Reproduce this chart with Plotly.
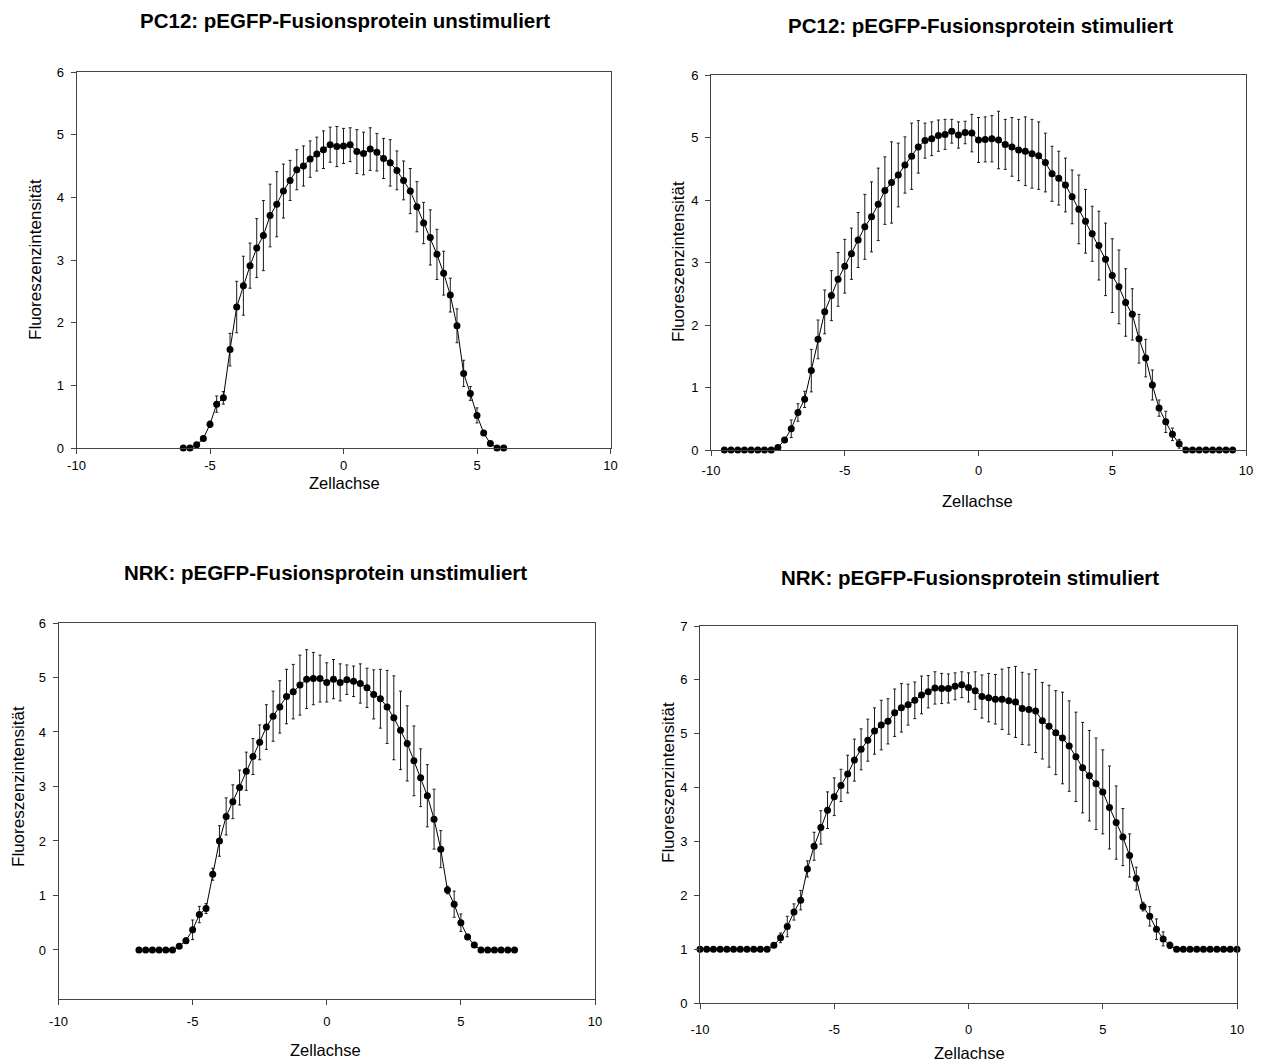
import numpy as np
import plotly.graph_objects as go

W, H = 1266, 1064

# ---------------- data ----------------
# PC12 unstimuliert, Zellachse -6 .. 6 (step 0.25)
x_pc12_u = np.arange(-6.0, 6.0001, 0.25)
y_pc12_u = [0.00, 0.00, 0.05, 0.15, 0.38, 0.70, 0.80, 1.57, 2.25, 2.59,
            2.91, 3.19, 3.39, 3.71, 3.89, 4.10, 4.27, 4.44, 4.50, 4.61,
            4.69, 4.76, 4.84, 4.81, 4.82,
            4.84, 4.73, 4.70, 4.77, 4.72, 4.62, 4.55, 4.43, 4.27, 4.10,
            3.85, 3.59, 3.36, 3.09, 2.79, 2.44, 1.95, 1.19, 0.87, 0.52,
            0.24, 0.07, 0.00, 0.00]
e_pc12_u = [0.00, 0.00, 0.02, 0.03, 0.05, 0.13, 0.10, 0.26, 0.41, 0.47,
            0.36, 0.47, 0.56, 0.50, 0.52, 0.43, 0.32, 0.32, 0.32, 0.29,
            0.27, 0.30, 0.28, 0.32, 0.28,
            0.27, 0.35, 0.34, 0.34, 0.30, 0.32, 0.37, 0.31, 0.31, 0.36,
            0.40, 0.33, 0.44, 0.40, 0.35, 0.27, 0.27, 0.21, 0.11, 0.12,
            0.04, 0.02, 0.00, 0.00]

# PC12 stimuliert, Zellachse -9.5 .. 9.5
x_pc12_s = np.arange(-9.5, 9.5001, 0.25)
y_pc12_s = [0, 0, 0, 0, 0, 0, 0, 0,
            0.04, 0.16, 0.34, 0.60, 0.81, 1.27, 1.77, 2.21, 2.47, 2.73,
            2.94, 3.14, 3.36, 3.57, 3.73, 3.93, 4.15, 4.28, 4.40, 4.56,
            4.70, 4.85, 4.95, 4.98, 5.03, 5.05, 5.10, 5.04, 5.08, 5.07,
            4.96,
            4.97, 4.98, 4.96, 4.89, 4.85, 4.80, 4.78, 4.74, 4.71, 4.60,
            4.42, 4.35, 4.24, 4.05, 3.85, 3.66, 3.46, 3.27, 3.05, 2.79,
            2.61, 2.36, 2.17, 1.78, 1.47, 1.04, 0.67, 0.45, 0.25, 0.10,
            0, 0, 0, 0, 0, 0, 0, 0]
e_pc12_s = [0, 0, 0, 0, 0, 0, 0, 0,
            0.02, 0.04, 0.14, 0.14, 0.13, 0.34, 0.31, 0.35, 0.40, 0.43,
            0.43, 0.41, 0.44, 0.52, 0.56, 0.58, 0.54, 0.65, 0.51, 0.45,
            0.53, 0.42, 0.28, 0.27, 0.25, 0.24, 0.19, 0.21, 0.18, 0.30,
            0.36,
            0.36, 0.37, 0.46, 0.40, 0.47, 0.49, 0.55, 0.55, 0.54, 0.47,
            0.44, 0.43, 0.43, 0.43, 0.55, 0.51, 0.44, 0.55, 0.58, 0.59,
            0.59, 0.54, 0.41, 0.39, 0.30, 0.24, 0.13, 0.17, 0.10, 0.07,
            0, 0, 0, 0, 0, 0, 0, 0]

# NRK unstimuliert, Zellachse -7 .. 7
x_nrk_u = np.arange(-7.0, 7.0001, 0.25)
y_nrk_u = [0, 0, 0, 0, 0, 0,
           0.07, 0.17, 0.37, 0.65, 0.76, 1.39, 2.00, 2.45, 2.72, 2.98,
           3.28, 3.55, 3.81, 4.09, 4.29, 4.46, 4.65, 4.74, 4.86, 4.97,
           4.98, 4.98,
           4.91,
           4.97, 4.91, 4.96, 4.93, 4.89, 4.81, 4.69, 4.61, 4.46, 4.26,
           4.03, 3.79, 3.47, 3.16, 2.83, 2.40, 1.85, 1.10, 0.84, 0.50,
           0.24, 0.09,
           0, 0, 0, 0, 0, 0]
e_nrk_u = [0, 0, 0, 0, 0, 0,
           0.03, 0.05, 0.18, 0.15, 0.09, 0.11, 0.28, 0.34, 0.31, 0.32,
           0.35, 0.33, 0.32, 0.41, 0.46, 0.48, 0.50, 0.50, 0.55, 0.54,
           0.48, 0.43,
           0.36,
           0.36, 0.34, 0.27, 0.28, 0.36, 0.36, 0.45, 0.54, 0.67, 0.77,
           0.72, 0.69, 0.64, 0.53, 0.57, 0.55, 0.34, 0.07, 0.24, 0.16,
           0.05, 0.02,
           0, 0, 0, 0, 0, 0]

# NRK stimuliert, Zellachse -10 .. 10
x_nrk_s = np.arange(-10.0, 10.0001, 0.25)
y_nrk_s = [1, 1, 1, 1, 1, 1, 1, 1, 1, 1, 1,
           1.07, 1.21, 1.42, 1.69, 1.91, 2.49, 2.91, 3.26, 3.58, 3.83,
           4.04, 4.25, 4.51, 4.71, 4.88, 5.05, 5.16, 5.23, 5.39, 5.48,
           5.54, 5.62, 5.72, 5.78, 5.85, 5.84, 5.84, 5.88, 5.91,
           5.86,
           5.80, 5.69, 5.67, 5.64, 5.64, 5.61, 5.59, 5.47, 5.45, 5.42,
           5.24, 5.14, 5.02, 4.92, 4.77, 4.57, 4.37, 4.22, 4.07, 3.92,
           3.63, 3.35, 3.08, 2.74, 2.31, 1.79, 1.61, 1.37, 1.19, 1.07,
           1, 1, 1, 1, 1, 1, 1, 1, 1, 1]
e_nrk_s = [0, 0, 0, 0, 0, 0, 0, 0, 0, 0, 0,
           0.04, 0.09, 0.19, 0.15, 0.18, 0.15, 0.26, 0.31, 0.34, 0.35,
           0.30, 0.35, 0.39, 0.38, 0.39, 0.43, 0.46, 0.42, 0.44, 0.45,
           0.38, 0.34, 0.35, 0.30, 0.30, 0.28, 0.27, 0.25, 0.24,
           0.27,
           0.35, 0.40, 0.45, 0.46, 0.56, 0.62, 0.66, 0.67, 0.66, 0.77,
           0.71, 0.76, 0.78, 0.85, 0.84, 0.83, 0.84, 0.84, 0.85, 0.78,
           0.77, 0.68, 0.53, 0.40, 0.21, 0.08, 0.18, 0.19, 0.13, 0.06,
           0, 0, 0, 0, 0, 0, 0, 0, 0, 0]

titles = ["PC12: pEGFP-Fusionsprotein unstimuliert",
          "PC12: pEGFP-Fusionsprotein stimuliert",
          "NRK: pEGFP-Fusionsprotein unstimuliert",
          "NRK: pEGFP-Fusionsprotein stimuliert"]
x_label = "Zellachse"
y_label = "Fluoreszenzintensität"
x_ticks = [-10, -5, 0, 5, 10]
x_tick_text = ["-10", "-5", "0", "5", "10"]

series = [(x_pc12_u, y_pc12_u, e_pc12_u),
          (x_pc12_s, y_pc12_s, e_pc12_s),
          (x_nrk_u, y_nrk_u, e_nrk_u),
          (x_nrk_s, y_nrk_s, e_nrk_s)]

# ---------------- layout (pixel boxes) ----------------
# (left, right, top, bottom) of plot areas in pixels
boxes = [(76.5, 610.5, 72, 448),
         (711, 1246, 75, 450),
         (58.5, 595, 623, 999),
         (700, 1237, 626, 1003)]
y_ranges = [[0, 6], [0, 6], [-0.9, 6], [0, 7]]
y_ticks = [[0, 1, 2, 3, 4, 5, 6], [0, 1, 2, 3, 4, 5, 6],
           [0, 1, 2, 3, 4, 5, 6], [0, 1, 2, 3, 4, 5, 6, 7]]
x_standoff = [0, 3, 5, 9]
title_pos = [(345, 20), (980, 25), (326, 572), (970, 577)]
xlab_pos = [(344, 483), (977, 501), (326, 1050), (969, 1053)]
ylab_pos = [(35, 260), (679, 262), (18, 787), (668, 783)]

FONT = "Liberation Sans, Arial, sans-serif"
AX = "#444444"

fig = go.Figure()
annotations = []
for i, ((xv, yv, ev), (l, r, t, b)) in enumerate(zip(series, boxes)):
    n = i + 1
    xa = "x" if n == 1 else f"x{n}"
    ya = "y" if n == 1 else f"y{n}"
    fig.add_trace(go.Scatter(
        x=list(xv), y=yv, xaxis=xa, yaxis=ya, mode="lines+markers",
        line=dict(color="black", width=1),
        marker=dict(color="black", size=7),
        error_y=dict(type="data", array=ev, symmetric=True, color="#1a1a1a",
                     thickness=1, width=1.5),
        cliponaxis=False, showlegend=False, hoverinfo="skip"))
    axcommon = dict(showgrid=False, zeroline=False, showline=True,
                    linecolor=AX, linewidth=1, mirror=True, ticks="outside",
                    ticklen=5, tickwidth=1, tickcolor=AX, automargin=False,
                    tickfont=dict(family=FONT, size=13, color="black"))
    fig.layout[("xaxis" if n == 1 else f"xaxis{n}")] = dict(
        domain=[l / W, r / W], range=[-10, 10], tickvals=x_ticks,
        ticktext=x_tick_text,
        anchor=ya, ticklabelstandoff=x_standoff[i], **axcommon)
    fig.layout[("yaxis" if n == 1 else f"yaxis{n}")] = dict(
        domain=[1 - b / H, 1 - t / H], range=y_ranges[i], tickvals=y_ticks[i],
        anchor=xa, ticklabelstandoff=4, **axcommon)
    tx, ty = title_pos[i]
    annotations.append(dict(text=f"<b>{titles[i]}</b>", x=tx / W, y=1 - ty / H,
                            xref="paper", yref="paper", showarrow=False,
                            xanchor="center", yanchor="middle",
                            font=dict(family=FONT, size=20.5, color="black")))
    lx, ly = xlab_pos[i]
    annotations.append(dict(text=x_label, x=lx / W, y=1 - ly / H,
                            xref="paper", yref="paper", showarrow=False,
                            xanchor="center", yanchor="middle",
                            font=dict(family=FONT, size=16.5, color="black")))
    vx, vy = ylab_pos[i]
    annotations.append(dict(text=y_label, x=vx / W, y=1 - vy / H,
                            xref="paper", yref="paper", showarrow=False,
                            xanchor="center", yanchor="middle", textangle=-90,
                            font=dict(family=FONT, size=17, color="black")))

fig.update_layout(width=W, height=H,
                  margin=dict(l=0, r=0, t=0, b=0, pad=0, autoexpand=False),
                  paper_bgcolor="white", plot_bgcolor="white",
                  annotations=annotations, showlegend=False)

fig.write_html("out.html", config={"displayModeBar": False},
               post_script="document.body.style.margin='0px';"
                           "document.documentElement.style.overflow='hidden';")
